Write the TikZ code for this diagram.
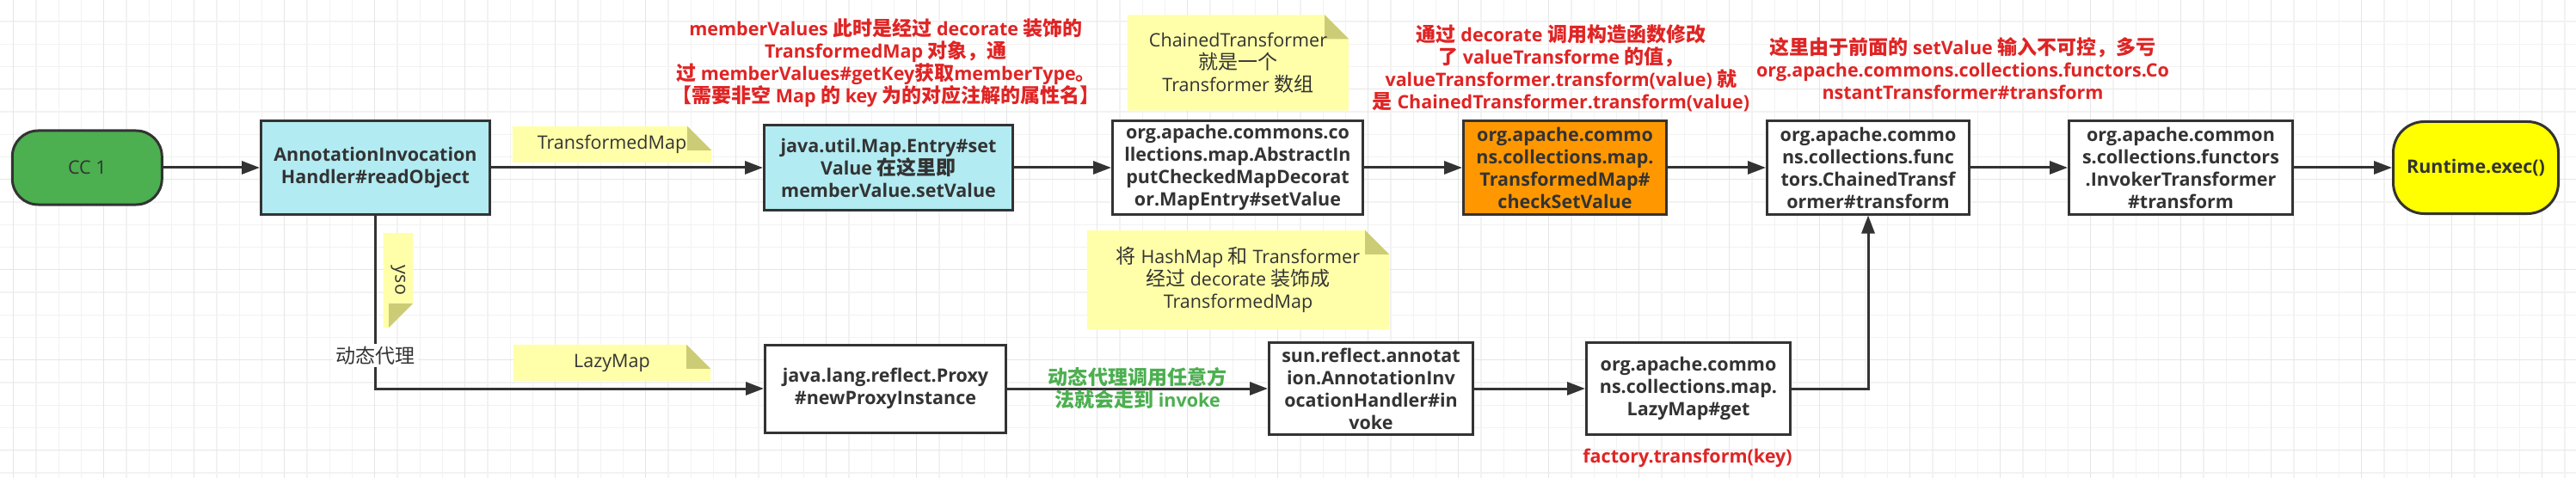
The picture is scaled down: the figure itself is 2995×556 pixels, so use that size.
\documentclass[tikz,border=0pt]{standalone}
\usepackage{fontspec}
\setmainfont{Open Sans}
\newfontfamily\zhfont[Scale=1.07]{Noto Sans CJK SC}
\newcommand\zh[1]{{\zhfont #1}}
\newcommand\sz{\fontsize{21.5}{26}\selectfont}
\usetikzlibrary{arrows.meta,calc}
\pgfdeclarelayer{grid}
\pgfdeclarelayer{bg}
\pgfsetlayers{grid,bg,main}
\definecolor{ink}{HTML}{333333}
\definecolor{gridminor}{HTML}{F2F2F2}
\definecolor{gridmajor}{HTML}{E6E6E6}
\definecolor{cyanbox}{HTML}{B2EBF2}
\definecolor{greenbox}{HTML}{4CAF50}
\definecolor{orangebox}{HTML}{FF9800}
\definecolor{yellowbox}{HTML}{FFFF00}
\definecolor{notefill}{HTML}{FFFFAA}
\definecolor{foldfill}{HTML}{CCCC77}
\definecolor{redtext}{HTML}{E02424}
\definecolor{greentext}{HTML}{4CAF50}
\newcommand\dogear[1]{%
  \coordinate (#1-a) at ($(#1.north east)!28pt!(#1.north west)$);
  \coordinate (#1-b) at ($(#1.north east)!28pt!(#1.south east)$);
  \fill[notefill] (#1.south west) -- (#1.north west) -- (#1-a) -- (#1-b) -- (#1.south east) -- cycle;
  \fill[foldfill] (#1-a) -- ($(#1-a)+(#1-b)-(#1.north east)$) -- (#1-b) -- cycle;}
\tikzset{
  box/.style={draw=ink, line width=3pt, text=ink, font=\sz\bfseries, align=center, inner sep=0pt},
  term/.style={box, rounded corners=30pt},
  note/.style={text=ink, font=\sz, align=center, inner sep=0pt},
  redtxt/.style={text=redtext, font=\sz\bfseries, align=center},
  arr/.style={draw=ink, line width=3pt, -{Triangle[length=21pt,width=15pt]}},
  gridline/.style={line width=1.3pt}
}
\begin{document}
\begin{tikzpicture}[x=1pt, y=-1pt, font=\sz]
\useasboundingbox (0,0) rectangle (2995,556);
\begin{pgfonlayer}{grid}
  \fill[white] (0,0) rectangle (2995,556);
  \foreach \x in {15.67,41.92,...,2995} \draw[gridline, gridminor] (\x,0) -- (\x,556);
  \foreach \y in {24.95,51.2,...,556} \draw[gridline, gridminor] (0,\y) -- (2995,\y);
  \foreach \x in {15.67,120.67,...,2995} \draw[gridline, gridmajor] (\x,0) -- (\x,556);
  \foreach \y in {103.7,208.7,...,556} \draw[gridline, gridmajor] (0,\y) -- (2995,\y);
\end{pgfonlayer}

\node[term, fill=greenbox, font=\sz, minimum width=174pt, minimum height=86pt] (cc) at (101.3,195) {CC 1};
\node[box, fill=cyanbox, minimum width=266pt, minimum height=108pt] (aih) at (436.5,195) {AnnotationInvocation\\Handler\#readObject};
\node[box, fill=cyanbox, minimum width=289pt, minimum height=98pt] (entry) at (1033,195) {java.util.Map.Entry\#set\\Value \zh{在这里即}\\memberValue.setValue};
\node[box, fill=white, minimum width=291pt, minimum height=108pt] (aicmd) at (1439,195) {org.apache.commons.co\\llections.map.AbstractIn\\putCheckedMapDecorat\\or.MapEntry\#setValue};
\node[box, fill=orangebox, minimum width=236pt, minimum height=108pt] (check) at (1819.5,195) {org.apache.commo\\ns.collections.map.\\TransformedMap\#\\checkSetValue};
\node[box, fill=white, minimum width=235pt, minimum height=108pt] (chained) at (2172,195) {org.apache.commo\\ns.collections.func\\tors.ChainedTransf\\ormer\#transform};
\node[box, fill=white, minimum width=260pt, minimum height=108pt] (invoker) at (2535.5,195) {org.apache.common\\s.collections.functors\\.InvokerTransformer\\\#transform};
\node[term, fill=yellowbox, rounded corners=36pt, minimum width=192pt, minimum height=107pt] (exec) at (2878.5,195) {Runtime.exec()};

\node[box, fill=white, minimum width=280pt, minimum height=102pt] (proxy) at (1029.5,452) {java.lang.reflect.Proxy\\\#newProxyInstance};
\node[box, fill=white, minimum width=237pt, minimum height=107pt] (invoke) at (1594,452) {sun.reflect.annotat\\ion.AnnotationInv\\ocationHandler\#in\\voke};
\node[box, fill=white, minimum width=237pt, minimum height=107pt] (lmget) at (1963,452) {org.apache.commo\\ns.collections.map.\\LazyMap\#get};

\node[note, minimum width=231pt, minimum height=42pt] (ntm) at (711.5,168) {TransformedMap};
\node[note, minimum width=257pt, minimum height=111pt] (nct) at (1439.5,73) {ChainedTransformer\\\zh{就是一个}\\Transformer \zh{数组}};
\node[note, minimum width=229pt, minimum height=42pt] (nlm) at (711.5,422) {LazyMap};
\node[note, minimum width=351pt, minimum height=115pt] (nhm) at (1439.5,325.5) {\zh{将} HashMap \zh{和} Transformer\\\zh{经过} decorate \zh{装饰成}\\TransformedMap};
\node[note, rotate=-90, minimum width=110pt, minimum height=34pt] (nyso) at (462.8,326) {yso};
\begin{pgfonlayer}{bg}
  \foreach \n in {ntm,nct,nlm,nhm,nyso} {\dogear{\n}}
\end{pgfonlayer}

\node[redtxt] (t1) at (1030,73.5) {memberValues \zh{此时是经过} decorate \zh{装饰的}\\TransformedMap \zh{对象，通}\\\zh{过} memberValues\#getKey\zh{获取}memberType\zh{。}\\\zh{【需要非空} Map \zh{的} key \zh{为的对应注解的属性名】}};
\node[redtxt] (t2) at (1815,79) {\zh{通过} decorate \zh{调用构造函数修改}\\\zh{了} valueTransforme \zh{的值，}\\valueTransformer.transform(value) \zh{就}\\\zh{是} ChainedTransformer.transform(value)};
\node[redtxt] (t3) at (2282,79.5) {\zh{这里由于前面的} setValue \zh{输入不可控，多亏}\\org.apache.commons.collections.functors.Co\\nstantTransformer\#transform};
\node[redtxt] (factory) at (1962,533) {factory.transform(key)};

\draw[arr] (cc) -- (aih);
\draw[arr] (aih) -- (entry);
\draw[arr] (entry) -- (aicmd);
\draw[arr] (aicmd) -- (check);
\draw[arr] (check) -- (chained);
\draw[arr] (chained) -- (invoker);
\draw[arr] (invoker) -- (exec);
\draw[arr] (aih.south) |- node[pos=0.405, fill=white, text=ink, inner sep=3pt] (proxylbl) {\zh{动态代理}} (proxy.west);
\draw[arr] (proxy) -- node[text=greentext, font=\sz\bfseries, align=center] (greenlbl) {\zh{动态代理调用任意方}\\\zh{法就会走到} invoke} (invoke);
\draw[arr] (invoke) -- (lmget);
\draw[arr] (lmget.east) -| (chained.south);
\end{tikzpicture}
\end{document}
